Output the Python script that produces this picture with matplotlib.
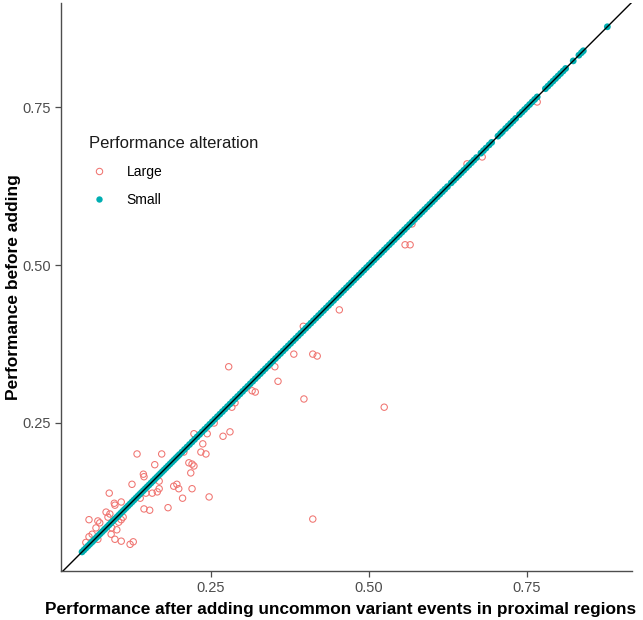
import matplotlib
matplotlib.use("Agg")
import matplotlib.pyplot as plt
from matplotlib.lines import Line2D

plt.rcParams['font.family'] = ['Liberation Sans', 'DejaVu Sans']

# Large alteration points: (after, before)
large_after = [0.524, 0.411, 0.453, 0.557, 0.565, 0.397, 0.411, 0.418, 0.381, 0.351,
               0.356, 0.315, 0.320, 0.278, 0.283, 0.288, 0.280, 0.255, 0.244, 0.223,
               0.269, 0.237, 0.234, 0.242, 0.172, 0.161, 0.215, 0.220, 0.223, 0.218,
               0.168, 0.196, 0.191, 0.199, 0.220, 0.168, 0.165, 0.157, 0.247, 0.205,
               0.182, 0.133, 0.143, 0.144, 0.125, 0.089, 0.147, 0.138, 0.097, 0.108,
               0.098, 0.144, 0.153, 0.084, 0.090, 0.087, 0.108, 0.104, 0.111, 0.057,
               0.071, 0.074, 0.068, 0.093, 0.101, 0.092, 0.057, 0.062, 0.071, 0.098,
               0.108, 0.122, 0.127, 0.052, 0.207, 0.396, 0.655, 0.679, 0.568, 0.766]
large_before = [0.275, 0.098, 0.429, 0.532, 0.532, 0.288, 0.359, 0.356, 0.359, 0.339,
                0.316, 0.301, 0.299, 0.339, 0.275, 0.282, 0.236, 0.250, 0.233, 0.233,
                0.229, 0.217, 0.204, 0.201, 0.201, 0.184, 0.187, 0.185, 0.182, 0.171,
                0.158, 0.153, 0.150, 0.146, 0.146, 0.146, 0.141, 0.139, 0.133, 0.131,
                0.116, 0.201, 0.169, 0.165, 0.153, 0.139, 0.139, 0.131, 0.123, 0.125,
                0.120, 0.114, 0.112, 0.109, 0.106, 0.101, 0.097, 0.093, 0.101, 0.097,
                0.095, 0.092, 0.084, 0.084, 0.081, 0.074, 0.070, 0.074, 0.066, 0.066,
                0.063, 0.058, 0.062, 0.061, 0.204, 0.403, 0.660, 0.671, 0.565, 0.758]

# Small alteration points (lie on the diagonal)
small_after = [0.046, 0.049, 0.052, 0.055, 0.058, 0.061, 0.063, 0.066, 0.069, 0.072,
               0.075, 0.078, 0.081, 0.083, 0.086, 0.089, 0.092, 0.095, 0.098, 0.101,
               0.104, 0.107, 0.110, 0.113, 0.116, 0.119, 0.122, 0.125, 0.128, 0.131,
               0.134, 0.137, 0.140, 0.143, 0.146, 0.149, 0.152, 0.155, 0.158, 0.161,
               0.164, 0.167, 0.170, 0.173, 0.176, 0.179, 0.182, 0.185, 0.188, 0.191,
               0.194, 0.197, 0.200, 0.204, 0.208, 0.212, 0.216, 0.220, 0.224, 0.228,
               0.232, 0.236, 0.240, 0.244, 0.248, 0.252, 0.256, 0.260, 0.264, 0.268,
               0.272, 0.276, 0.280, 0.284, 0.288, 0.292, 0.296, 0.300, 0.304, 0.308,
               0.312, 0.316, 0.320, 0.324, 0.328, 0.332, 0.336, 0.340, 0.344, 0.348,
               0.352, 0.356, 0.360, 0.364, 0.368, 0.372, 0.376, 0.380, 0.384, 0.388,
               0.392, 0.396, 0.400, 0.404, 0.408, 0.412, 0.416, 0.420, 0.424, 0.428,
               0.432, 0.436, 0.440, 0.444, 0.448, 0.452, 0.456, 0.460, 0.464, 0.468,
               0.472, 0.476, 0.480, 0.484, 0.488, 0.492, 0.496, 0.500, 0.504, 0.508,
               0.512, 0.516, 0.520, 0.524, 0.528, 0.532, 0.536, 0.540, 0.544, 0.548,
               0.552, 0.556, 0.560, 0.564, 0.568, 0.572, 0.576, 0.580, 0.584, 0.588,
               0.592, 0.596, 0.600, 0.604, 0.608, 0.612, 0.616, 0.620, 0.624,
               0.630, 0.634, 0.638, 0.642, 0.646, 0.650, 0.654, 0.658, 0.662, 0.666, 0.670,
               0.677, 0.681, 0.685, 0.690, 0.694,
               0.704, 0.708, 0.711, 0.716, 0.720, 0.724, 0.728, 0.732,
               0.738, 0.742, 0.746, 0.750, 0.754, 0.758, 0.762, 0.766,
               0.779, 0.783, 0.787, 0.791, 0.795, 0.799, 0.803, 0.807, 0.811,
               0.823, 0.832, 0.836, 0.839, 0.877]
small_before = list(small_after)

x_ticks = [0.25, 0.50, 0.75]
y_ticks = [0.25, 0.50, 0.75]
tick_labels = ["0.25", "0.50", "0.75"]

RED = "#F07470"
TEAL = "#00AEB2"

fig = plt.figure(figsize=(6.43, 6.20), dpi=100)
ax = fig.add_axes([61/643, 1 - 571/620, (632-61)/643, (571-3)/620])

ax.scatter(large_after, large_before, s=21, facecolors='none', edgecolors=RED,
           linewidths=0.75, zorder=2)
ax.scatter(small_after, small_before, s=24, color=TEAL, edgecolors='none', zorder=3)
ax.axline((0, 0), slope=1, color='black', lw=1.0, zorder=4)

ax.set_xlim(0.0127, 0.916)
ax.set_ylim(0.0158, 0.9146)
ax.set_xticks(x_ticks)
ax.set_xticklabels(tick_labels)
ax.set_yticks(y_ticks)
ax.set_yticklabels(tick_labels)

for side in ['top', 'right']:
    ax.spines[side].set_visible(False)
for side in ['left', 'bottom']:
    ax.spines[side].set_color('#4d4d4d')
    ax.spines[side].set_linewidth(1.0)
ax.tick_params(axis='both', direction='out', length=4, width=0.9, color='#4d4d4d',
               labelcolor='#4d4d4d', labelsize=10.5, pad=3)

ax.set_xlabel("Performance after adding uncommon variant events in proximal regions",
              fontsize=12.45, fontweight='bold')
ax.xaxis.set_label_coords((341 - 61) / (632 - 61), -0.055)
ax.set_ylabel("Performance before adding", fontsize=12.5, fontweight='bold')
ax.yaxis.set_label_coords((21 - 61) / (632 - 61), 0.5)

handles = [
    Line2D([], [], marker='o', linestyle='none', markerfacecolor='none',
           markeredgecolor=RED, markersize=4.6, markeredgewidth=0.75, label='Large'),
    Line2D([], [], marker='o', linestyle='none', markerfacecolor=TEAL,
           markeredgecolor='none', markersize=4.6, label='Small'),
]
leg = ax.legend(handles=handles, title="Performance alteration", loc='upper left',
                bbox_to_anchor=(82/643, 1 - 129/620), bbox_transform=fig.transFigure,
                frameon=False, fontsize=10, title_fontsize=12, alignment='left',
                handlelength=1.5, handletextpad=1.2, labelspacing=1.0, borderpad=0)
leg.get_title().set_color('#1a1a1a')

fig.savefig("out.png", dpi=100)
